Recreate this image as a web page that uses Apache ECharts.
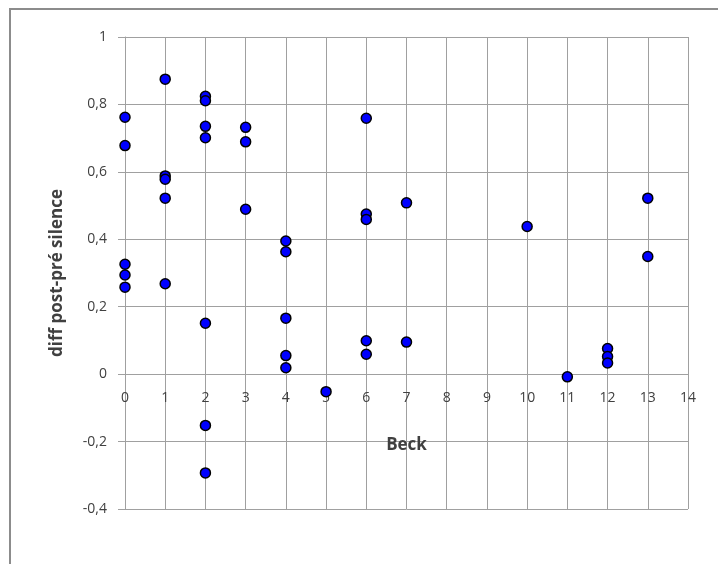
<!DOCTYPE html>
<html>
<head>
<meta charset="utf-8">
<script src="https://cdn.jsdelivr.net/npm/echarts@6/dist/echarts.min.js"></script>
<style>
html,body{margin:0;padding:0;background:#fff;}
#chart{width:718px;height:564px;}
</style>
</head>
<body>
<div id="chart"></div>
<script>
// Beck score (x) and diff post-pré silence (y)
const beckScores = [0,0,0,0,0, 1,1,1,1,1, 2,2,2,2,2,2,2, 3,3,3, 4,4,4,4,4, 5, 6,6,6,6,6, 7,7, 10, 11, 12,12,12, 13,13];
const diffValues = [0.762,0.678,0.326,0.294,0.258, 0.875,0.588,0.578,0.522,0.268, 0.824,0.811,0.735,0.701,0.151,-0.152,-0.293, 0.732,0.689,0.489, 0.395,0.363,0.166,0.055,0.019, -0.052, 0.759,0.475,0.459,0.099,0.059, 0.508,0.095, 0.438, -0.008, 0.076,0.052,0.033, 0.522,0.349];
const xAxisTitle = 'Beck';
const yAxisTitle = 'diff post-pré silence';

const points = beckScores.map((x, i) => [x, diffValues[i]]);
const fontFam = '"Open Sans", "Noto Sans", sans-serif';
const gridColor = '#A0A0A0';

const W = 718, H = 564;
const gridLeft = 125, gridTop = 37, gridRight = 30, gridBottom = 55;
const yMin = -0.4, yMax = 1;
const plotH = H - gridTop - gridBottom;
// move the x axis up so it sits on y = 0, as in the reference
const xAxisOffset = -plotH * (0 - yMin) / (yMax - yMin);

const chart = echarts.init(document.getElementById('chart'), null, {renderer: 'canvas'});
chart.setOption({
  animation: false,
  backgroundColor: '#fff',
  graphic: [{
    type: 'rect',
    shape: {x: 10, y: 9, width: 720, height: 570},
    style: {fill: 'none', stroke: '#8c8c8c', lineWidth: 2},
    silent: true, z: -1
  }],
  grid: {left: gridLeft, top: gridTop, right: gridRight, bottom: gridBottom,
         containLabel: false, outerBoundsMode: 'none'},
  xAxis: {
    type: 'value', min: 0, max: 14, interval: 1,
    offset: xAxisOffset,
    name: xAxisTitle, nameLocation: 'middle', nameGap: 63,
    nameTextStyle: {fontFamily: fontFam, fontWeight: 'bold', fontSize: 17, color: '#404040'},
    axisLine: {show: true, onZero: false, lineStyle: {color: gridColor, width: 1}},
    axisTick: {show: false},
    axisLabel: {fontFamily: fontFam, fontSize: 14, color: '#404040', margin: 17},
    splitLine: {show: true, lineStyle: {color: gridColor, width: 1}}
  },
  yAxis: {
    type: 'value', min: yMin, max: yMax, interval: 0.2,
    name: yAxisTitle, nameLocation: 'middle', nameGap: 59,
    nameTextStyle: {fontFamily: fontFam, fontWeight: 'bold', fontSize: 17, color: '#404040'},
    axisLine: {show: true, onZero: false, lineStyle: {color: gridColor, width: 1}},
    axisTick: {show: true, length: 7, inside: false, lineStyle: {color: gridColor}},
    axisLabel: {fontFamily: fontFam, fontSize: 14, color: '#404040', margin: 18,
      formatter: v => String(+v.toFixed(1)).replace('.', ',')},
    splitLine: {show: true, lineStyle: {color: gridColor, width: 1}}
  },
  series: [{
    type: 'scatter',
    data: points,
    symbol: 'circle',
    symbolSize: 10,
    itemStyle: {color: '#0000FF', borderColor: '#000', borderWidth: 1.5, opacity: 1}
  }]
});
</script>
</body>
</html>
